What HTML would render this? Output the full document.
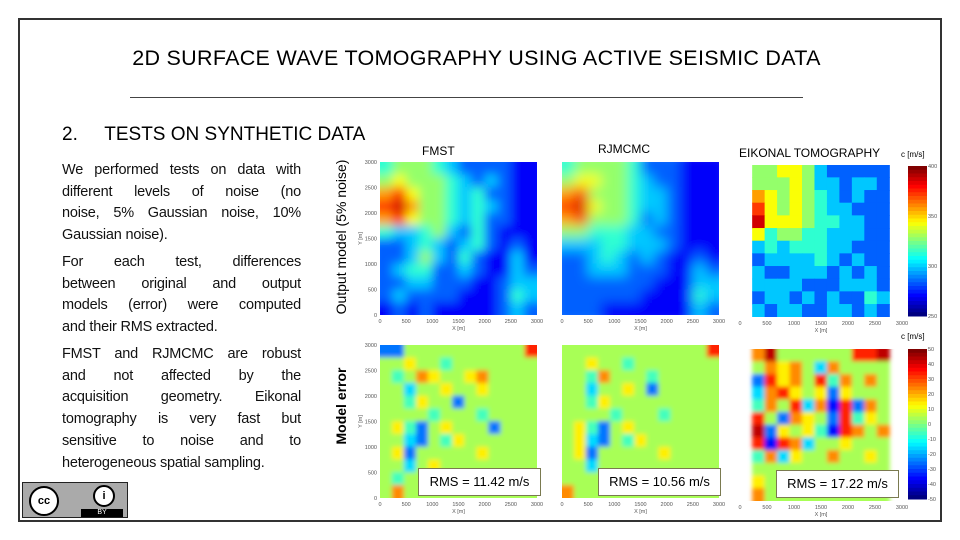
<!DOCTYPE html>
<html><head><meta charset="utf-8"><style>
body{margin:0;width:960px;height:540px;background:#fff;position:relative;overflow:hidden;font-family:"Liberation Sans",sans-serif}
.abs{position:absolute}
.p{position:absolute;left:62px;width:239px;font-size:14.5px;letter-spacing:-0.2px;line-height:21.7px;color:#111}
.p span{display:block;text-align:justify;text-align-last:justify;white-space:nowrap}
.p span.l{text-align-last:left}
.rms{position:absolute;background:#fff;border:1px solid #7a7a50;font-size:13px;text-align:center;line-height:26px;height:26px;width:121px}
.tick{font-size:5.5px;fill:#555;font-family:"Liberation Sans",sans-serif}
</style></head><body>
<div class="abs" style="left:18px;top:18px;width:924px;height:504px;border:2px solid #333;box-sizing:border-box"></div>
<div class="abs" style="left:0;width:953px;top:46px;text-align:center;font-size:21.5px;letter-spacing:0.3px">2D SURFACE WAVE TOMOGRAPHY USING ACTIVE SEISMIC DATA</div>
<div class="abs" style="left:130px;top:97px;width:673px;height:1px;background:#444"></div>
<div class="abs" style="left:62px;top:124px;font-size:19px">2.&nbsp;&nbsp;&nbsp;&nbsp;&nbsp;TESTS ON SYNTHETIC DATA</div>
<div class="p" style="top:160px"><span style="white-space:normal">We performed tests on data with</span><span>different levels of noise (no</span><span>noise, 5% Gaussian noise, 10%</span><span class="l">Gaussian noise).</span></div>
<div class="p" style="top:252px"><span>For each test, differences</span><span>between original and output</span><span>models (error) were computed</span><span class="l">and their RMS extracted.</span></div>
<div class="p" style="top:344px"><span>FMST and RJMCMC are robust</span><span>and not affected by the</span><span>acquisition geometry. Eikonal</span><span>tomography is very fast but</span><span>sensitive to noise and to</span><span class="l">heterogeneous spatial sampling.</span></div>
<div class="abs" style="left:22px;top:482px;width:106px;height:36px;background:#aaa;border:1px solid #222;box-sizing:border-box">
<div class="abs" style="left:6px;top:3px;width:26px;height:26px;border-radius:50%;background:#fff;border:2px solid #000;font-size:11px;font-weight:bold;text-align:center;line-height:26px">cc</div>
<div class="abs" style="left:70px;top:2px;width:18px;height:18px;border-radius:50%;background:#fff;border:2px solid #000;font-size:11px;font-weight:bold;text-align:center;line-height:18px">i</div>
<div class="abs" style="left:58px;top:26px;width:42px;height:8px;background:#000;color:#fff;font-size:7px;text-align:center;line-height:8px">BY</div>
</div>
<div class="abs" style="left:341px;top:237px;transform:translate(-50%,-50%) rotate(-90deg);font-size:14px;white-space:nowrap">Output model (5% noise)</div>
<div class="abs" style="left:341px;top:406px;transform:translate(-50%,-50%) rotate(-90deg);font-size:14px;font-weight:bold;white-space:nowrap">Model error</div>
<div class="abs" style="left:422px;top:144px;font-size:12px">FMST</div>
<div class="abs" style="left:598px;top:142px;font-size:12px">RJMCMC</div>
<div class="abs" style="left:739px;top:146px;font-size:12px">EIKONAL TOMOGRAPHY</div>
<div class="abs" style="left:901px;top:150px;font-size:8px">c [m/s]</div>
<div class="abs" style="left:901px;top:332px;font-size:8px">c [m/s]</div>
<svg id="s" class="abs" style="left:0;top:0" width="960" height="540"><defs id="defs"></defs></svg>
<div class="rms" style="left:418px;top:468px">RMS = 11.42 m/s</div>
<div class="rms" style="left:598px;top:468px">RMS = 10.56 m/s</div>
<div class="rms" style="left:776px;top:470px">RMS = 17.22 m/s</div>
<script>
// velocity levels 0-9 (rows from Y=3000 to Y=0)
const fmstGrid=["455543222211","565554323211","786554342211","897554343211","786554342211","433453242111","223432342121","223532421131","234422321132","223322211233","232222111243","121211111232"];
const rjGrid=["455554222111","566554322111","785554332111","896554332111","785554232111","554443322111","333443332111","223432321121","223332221132","222222211133","222222111143","222111111132"];
const eikGrid=["x55665322222x","x55565332332x","x76565432322x","x86565433222x","x96665443322x","x64554433322x","x34344433222x","x23333432322x","x32233323232x","x33332223332x","x23323232243x","x32332233232x"];
// error levels 0-9 (5 = zero error)
const errF=["2255555555558","5565545555555","5457655675555","5535565565555","5546552555555","5555455545555","5642565552555","5532546555555","5625555565555","5535655555555","5455455555555","5755555555555"];
const errR=["5555555555558","5565545555555","5547555455555","5535565255555","5546555555555","5555455545555","5642565555555","5632546555555","5625555565555","5535555555555","5555455555555","7555555555555"];
const errE=["x79555555889x","x57675375555x","x28675847575x","x37865626555x","x47583718275x","x85276528465x","x92656418757x","x81873556555x","x47365575565x","x55555555555x","x65555555555x","x75555555555x"];
const xTicks=["0","500","1000","1500","2000","2500","3000"];
const yTicks=["0","500","1000","1500","2000","2500","3000"];
const vTicks=["400","350","300","250"];
const eTicks=["50","40","30","20","10","0","-10","-20","-30","-40","-50"];
const NS="http://www.w3.org/2000/svg",S=document.getElementById('s'),D=document.getElementById('defs');
function jet(v){const c=x=>Math.round(255*Math.max(0,Math.min(1,x)));return`rgb(${c(1.5-Math.abs(4*v-3))},${c(1.5-Math.abs(4*v-2))},${c(1.5-Math.abs(4*v-1))})`;}
function el(t,a,p){const e=document.createElementNS(NS,t);for(const k in a)e.setAttribute(k,a[k]);(p||S).appendChild(e);return e;}
let fid=0;
function panel(name,grid,x0,y0,w,h,blur,ylab,base){
 const g=el('g',{});
 const id='f'+(fid++);
 const cp=el('clipPath',{id:'c'+id},D);el('rect',{x:x0,y:y0,width:w,height:h},cp);
 const outer=el('g',{'clip-path':'url(#c'+id+')'},g);
 let inner=outer;
 if(blur){const f=el('filter',{id:id,filterUnits:'userSpaceOnUse',x:x0-20,y:y0-20,width:w+40,height:h+40},D);
  el('feGaussianBlur',{stdDeviation:blur,edgeMode:'duplicate'},f);
  inner=el('g',{filter:'url(#'+id+')'},outer);}
 const R=grid.length,C=grid[0].length,cw=w/C,ch=h/R;
 const sx=c=>x0+c*cw, sy=r=>y0+r*ch;
 grid.forEach((row,r)=>[...row].forEach((v,c)=>{if(v==='x')return;
  const ex=(blur&&c===0)?-10:0, ew=(blur&&c===C-1)?10:0, ey=(blur&&r===0)?-10:0, eh=(blur&&r===R-1)?10:0;
  const cell=el('rect',{x:sx(c)-0.3+ex,y:sy(r)-0.3+ey,width:cw+0.6-ex+ew,height:ch+0.6-ey+eh,fill:jet(base+0.1*(+v))},inner);
  }));
 xTicks.forEach((t,i)=>{const tx=el('text',{x:x0+i*w/(xTicks.length-1),y:y0+h+8,'text-anchor':'middle',class:'tick'},g);tx.textContent=t;});
 const xl=el('text',{x:x0+w/2,y:y0+h+15,'text-anchor':'middle',class:'tick'},g);xl.textContent='X [m]';
 if(ylab){yTicks.forEach((t,i)=>{const ty=el('text',{x:x0-3,y:y0+h-i*h/(yTicks.length-1)+2,'text-anchor':'end',class:'tick'},g);ty.textContent=t;});
  const yl=el('text',{x:x0-18,y:y0+h/2,'text-anchor':'middle',class:'tick',transform:`rotate(-90 ${x0-18} ${y0+h/2})`},g);yl.textContent='Y [m]';}
}
function cbar(name,x,y,w,h,ticks){const g=el('g',{});
 for(let i=0;i<40;i++)el('rect',{x:x,y:y+i*h/40,width:w,height:h/40+0.5,fill:jet(1-i/39)},g);
 ticks.forEach((t,i)=>{const tx=el('text',{x:x+w+1,y:y+i*h/(ticks.length-1)+2,class:'tick','font-size':'4.5'},g);tx.textContent=t;});}
panel('fmst-output-map',fmstGrid,380,162,157,153,5,true,0.02);
panel('rjmcmc-output-map',rjGrid,562,162,157,153,6,false,0.02);
panel('eikonal-output-map',eikGrid,740,165,162,152,0,false,0.02);
panel('fmst-error-map',errF,380,345,157,153,2.5,true,0.04);
panel('rjmcmc-error-map',errR,562,345,157,153,2.5,false,0.04);
panel('eikonal-error-map',errE,740,349,162,152,2,false,0.04);
cbar('velocity-colorbar',908,166,19,150,vTicks);
cbar('error-colorbar',908,349,19,150,eTicks);
</script>
</body></html>
